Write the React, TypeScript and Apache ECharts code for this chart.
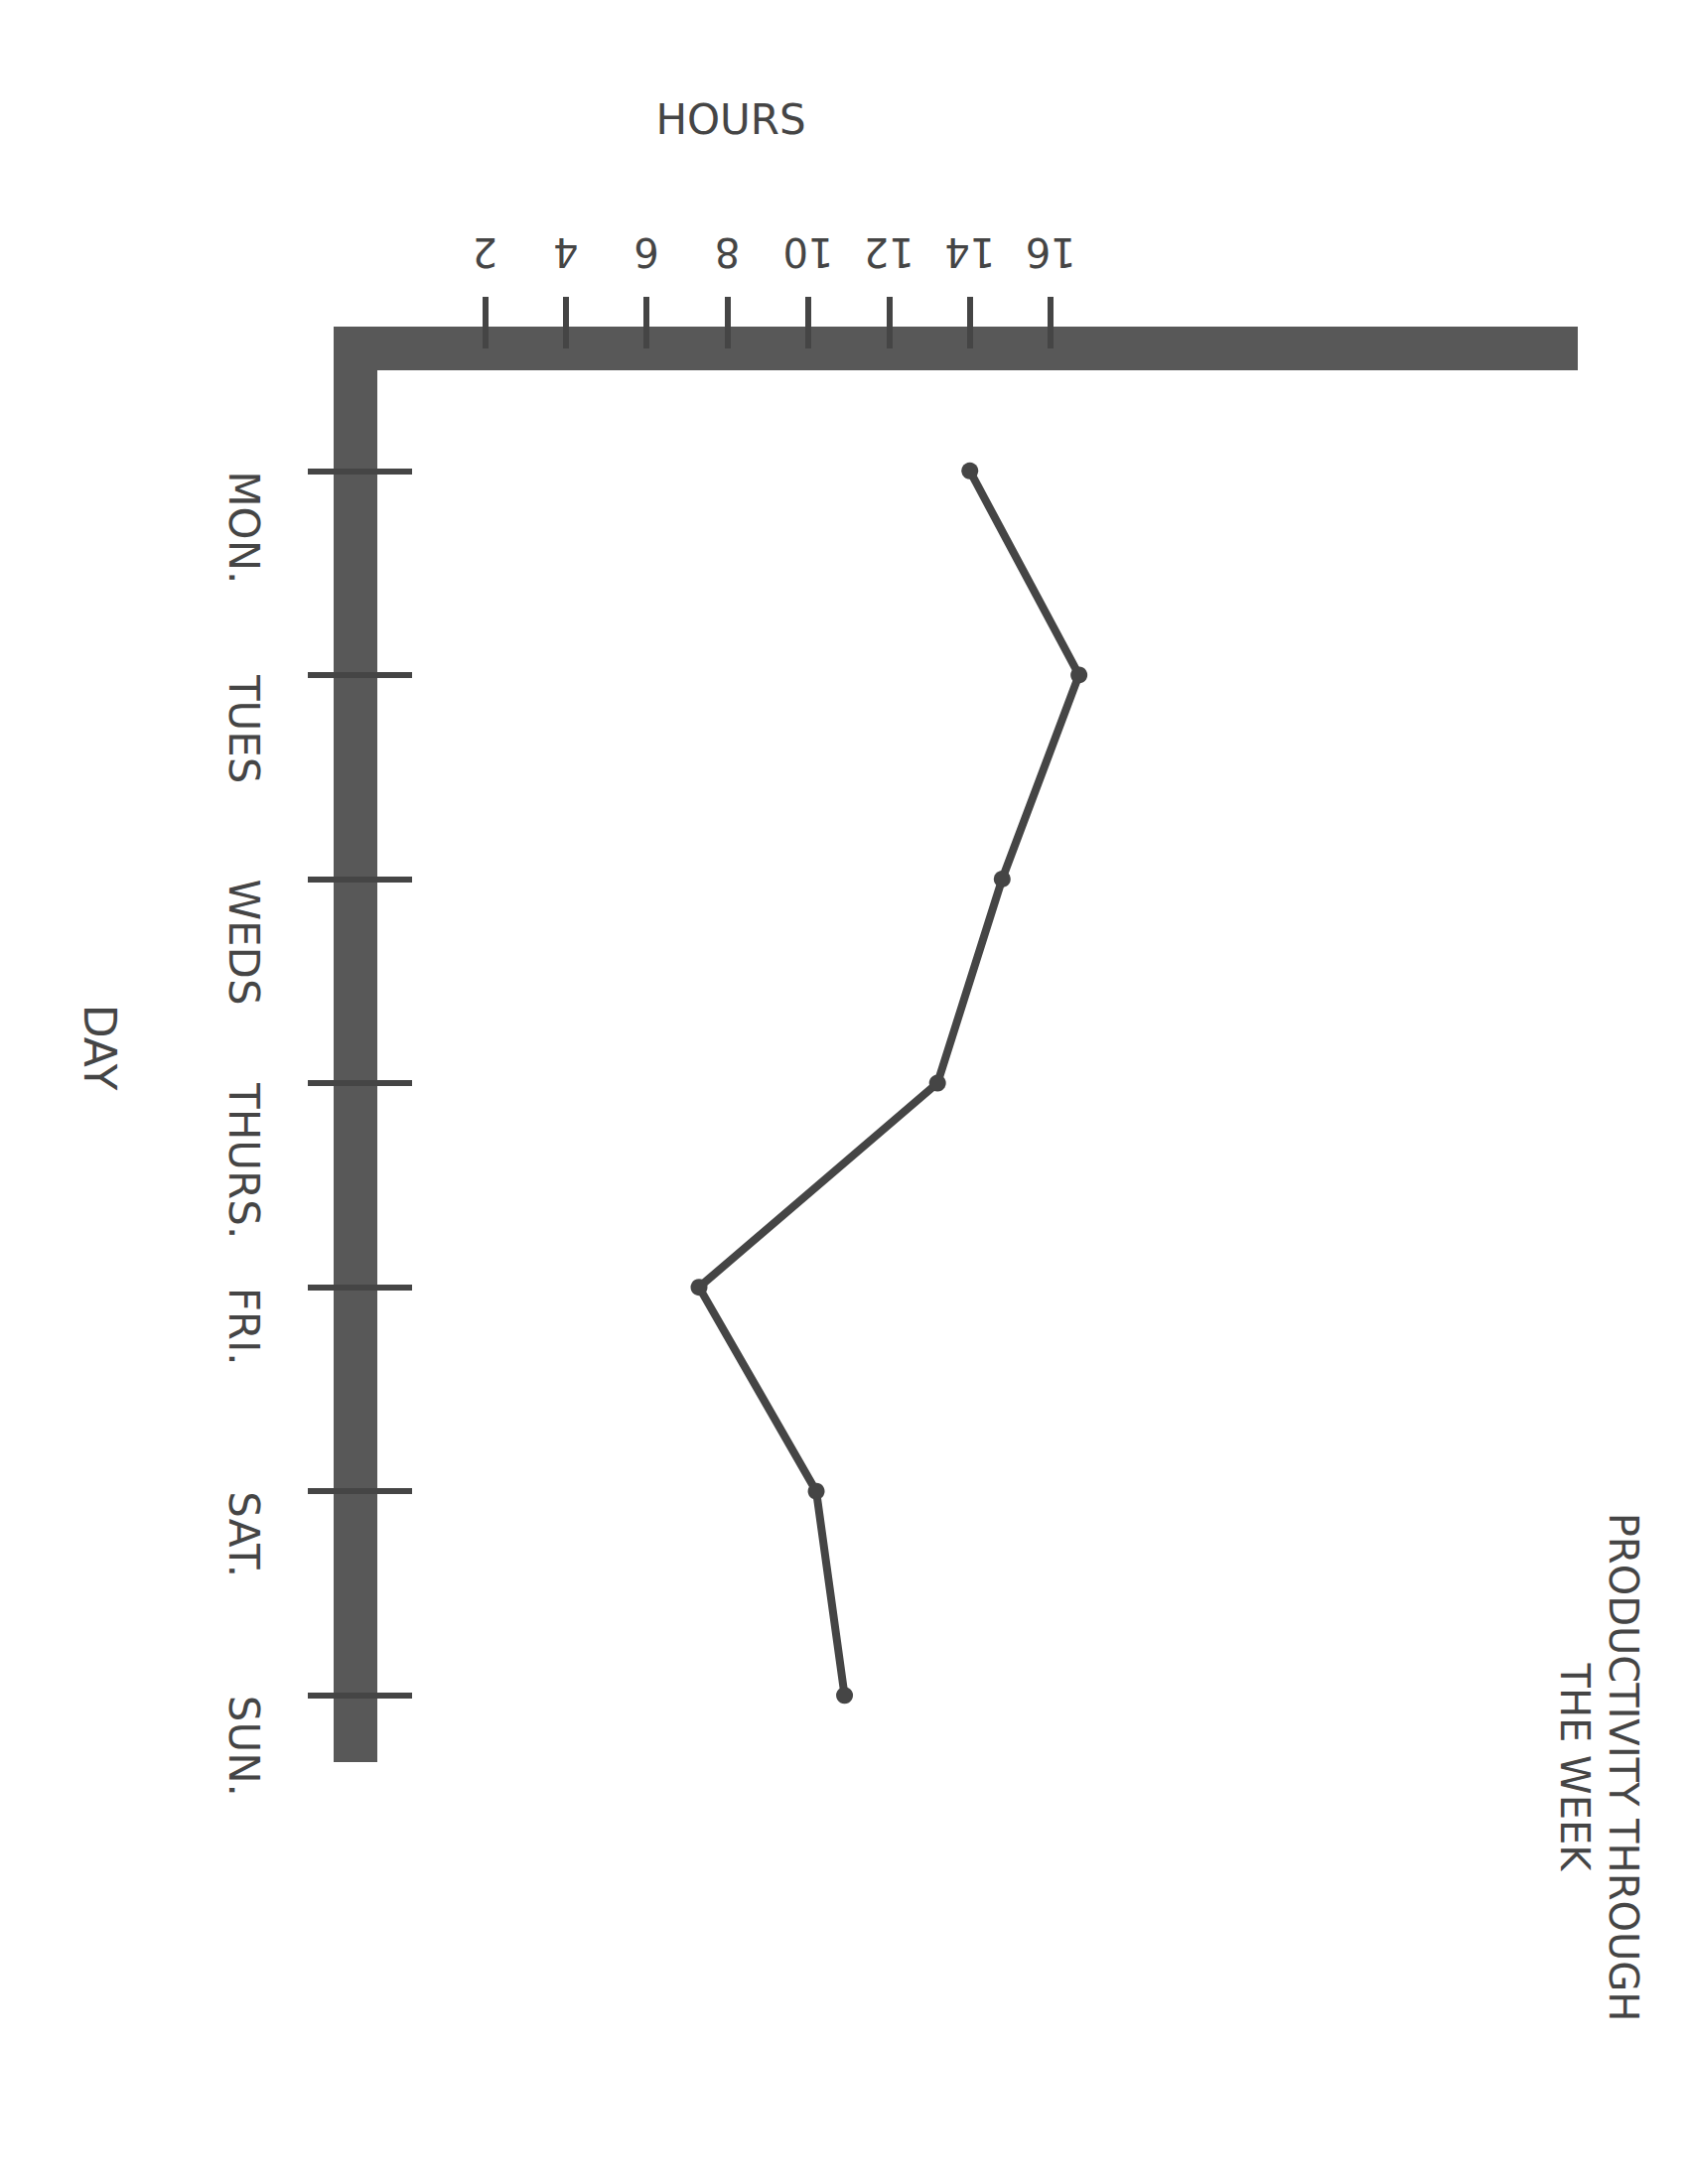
import React, { useEffect, useRef } from "react";
import * as echarts from "echarts";

// ---- data ----
const DAYS = ["MON.", "TUES", "WEDS", "THURS.", "FRI.", "SAT.", "SUN."];
const HOURS = [14.0, 16.7, 14.8, 13.2, 7.3, 10.2, 10.9];
const HOUR_TICKS = [2, 4, 6, 8, 10, 12, 14, 16];
const X_NAME = "HOURS";
const Y_NAME = "DAY";
const TITLE = "PRODUCTIVITY THROUGH\nTHE WEEK";

const GRAY = "#585858";
const INK = "#454545";
const FONT = "DejaVu Sans";

export default function App() {
  const ref = useRef<HTMLDivElement>(null);

  useEffect(() => {
    if (!ref.current) return;
    const chart = echarts.init(ref.current, null, { renderer: "svg" });
    const dayTicks = DAYS.map((_, i) => i);
    const tickStyle = { color: INK, width: 6 };

    const option: any = {
      animation: false,
      backgroundColor: "#ffffff",
      grid: { left: 358, right: 133, top: 351, bottom: 447, containLabel: false },
      xAxis: {
        type: "value",
        position: "top",
        min: -1.2,
        max: 28.5,
        axisLine: {
          show: true,
          onZero: false,
          lineStyle: { color: GRAY, width: 44, cap: "square" },
        },
        axisTick: {
          show: true,
          inside: false,
          length: 52,
          customValues: HOUR_TICKS,
          lineStyle: tickStyle,
        },
        axisLabel: {
          show: true,
          customValues: HOUR_TICKS,
          rotate: 180,
          margin: 77,
          align: "center",
          verticalAlign: "top",
          color: INK,
          fontSize: 40,
          fontFamily: FONT,
        },
        splitLine: { show: false },
      },
      yAxis: [
        {
          type: "value",
          position: "left",
          inverse: true,
          min: -0.6,
          max: 6.22,
          axisLine: {
            show: true,
            onZero: false,
            lineStyle: { color: GRAY, width: 44, cap: "square" },
          },
          axisTick: {
            show: true,
            inside: false,
            length: 48,
            customValues: dayTicks,
            lineStyle: tickStyle,
          },
          axisLabel: {
            show: true,
            customValues: dayTicks,
            formatter: (v: number) => DAYS[Math.round(v)] ?? "",
            rotate: -90,
            margin: 92,
            align: "left",
            verticalAlign: "top",
            color: INK,
            fontSize: 42,
            fontFamily: FONT,
          },
          splitLine: { show: false },
        },
        {
          type: "value",
          position: "left",
          inverse: true,
          min: -0.6,
          max: 6.22,
          axisLine: { show: false, onZero: false },
          axisTick: {
            show: true,
            inside: true,
            length: 57,
            customValues: dayTicks,
            lineStyle: tickStyle,
          },
          axisLabel: { show: false },
          splitLine: { show: false },
        },
      ],
      series: [
        {
          type: "line",
          xAxisIndex: 0,
          yAxisIndex: 0,
          data: HOURS.map((h, i) => [h, i]),
          symbol: "circle",
          symbolSize: 17,
          showSymbol: true,
          lineStyle: { color: INK, width: 8 },
          itemStyle: { color: INK },
          z: 3,
        },
      ],
      graphic: [
        {
          type: "text",
          x: 736,
          y: 120,
          style: {
            text: X_NAME,
            fill: INK,
            fontSize: 42,
            fontFamily: FONT,
            align: "center",
            verticalAlign: "middle",
          },
        },
        {
          type: "text",
          x: 100,
          y: 1055,
          rotation: -Math.PI / 2,
          style: {
            text: Y_NAME,
            fill: INK,
            fontSize: 44,
            fontFamily: FONT,
            align: "center",
            verticalAlign: "middle",
          },
        },
        {
          type: "text",
          x: 1610,
          y: 1780,
          rotation: -Math.PI / 2,
          style: {
            text: TITLE,
            fill: INK,
            fontSize: 40,
            lineHeight: 49,
            fontFamily: FONT,
            align: "center",
            verticalAlign: "middle",
          },
        },
      ],
    };

    chart.setOption(option);
    return () => chart.dispose();
  }, []);

  return (
    <div
      ref={ref}
      style={{ position: "absolute", left: 0, top: 0, width: 1700, height: 2200 }}
    />
  );
}
